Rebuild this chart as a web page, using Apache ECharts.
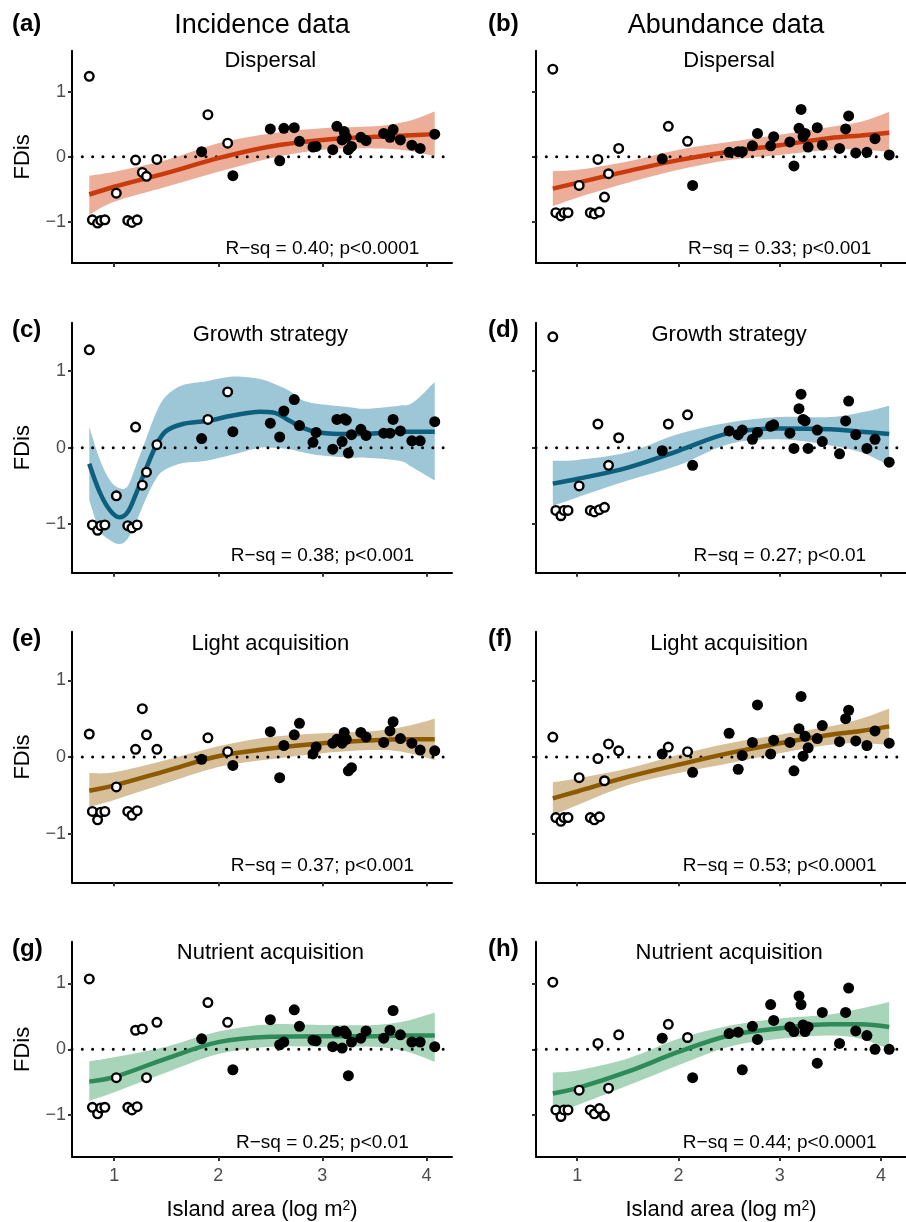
<!DOCTYPE html>
<html>
<head>
<meta charset="utf-8">
<script src="https://cdn.jsdelivr.net/npm/echarts@6/dist/echarts.min.js"></script>
<style>
html, body { margin: 0; padding: 0; background: #fff; }
#fdChart { width: 906px; height: 1222px; }
</style>
</head>
<body>
<div id="fdChart"></div>
<script>
// island area (log m2), same islands in every panel
var islandArea = [0.76, 0.79, 0.84, 0.87, 0.91, 1.02, 1.13, 1.17, 1.205, 1.22, 1.27, 1.31, 1.41,
    1.84, 1.90, 2.09, 2.14, 2.50, 2.59, 2.63, 2.73, 2.78, 2.91, 2.94, 3.10, 3.14, 3.19, 3.21,
    3.23, 3.25, 3.28, 3.37, 3.42, 3.59, 3.65, 3.68, 3.75, 3.86, 3.94, 4.08];
// 1 = open circle, 0 = filled
var openIsland = [1, 1, 1, 1, 1, 1, 1, 1, 1, 1, 1, 1, 1, 0, 1, 1, 0, 0, 0, 0, 0, 0, 0, 0, 0, 0,
    0, 0, 0, 0, 0, 0, 0, 0, 0, 0, 0, 0, 0, 0];

// FDis per panel
var fdisA = [1.24, -0.97, -1.02, -0.98, -0.97, -0.56, -0.98, -1.01, -0.05, -0.97, -0.24, -0.30, -0.04,
    0.08, 0.65, 0.21, -0.29, 0.43, -0.06, 0.44, 0.45, 0.24, 0.15, 0.16, 0.11, 0.47, 0.26, 0.39,
    0.30, 0.11, 0.16, 0.30, 0.25, 0.36, 0.30, 0.42, 0.26, 0.18, 0.13, 0.35];
var fdisB = [1.35, -0.86, -0.91, -0.86, -0.86, -0.44, -0.86, -0.88, -0.04, -0.85, -0.62, -0.26, 0.13,
    -0.03, 0.47, 0.24, -0.44, 0.07, 0.08, 0.08, 0.17, 0.36, 0.17, 0.31, 0.23, -0.14, 0.44, 0.73,
    0.31, 0.36, 0.15, 0.45, 0.18, 0.13, 0.43, 0.63, 0.06, 0.07, 0.28, 0.03];
var fdisC = [1.28, -1.01, -1.08, -1.02, -1.01, -0.63, -1.02, -1.05, 0.27, -1.01, -0.49, -0.32, 0.04,
    0.12, 0.37, 0.73, 0.21, 0.32, 0.14, 0.48, 0.63, 0.29, 0.07, 0.20, -0.02, 0.37, 0.08, 0.38,
    0.36, -0.07, 0.17, 0.24, 0.16, 0.19, 0.19, 0.37, 0.22, 0.09, 0.09, 0.34];
var fdisD = [1.45, -0.82, -0.89, -0.82, -0.82, -0.50, -0.82, -0.84, 0.31, -0.81, -0.78, -0.23, 0.13,
    -0.04, 0.31, 0.43, -0.23, 0.22, 0.17, 0.23, 0.11, 0.20, 0.28, 0.30, 0.19, -0.01, 0.51, 0.70,
    0.37, 0.35, -0.01, 0.23, 0.08, -0.08, 0.35, 0.61, 0.17, -0.01, 0.11, -0.19];
var fdisE = [0.30, -0.71, -0.82, -0.72, -0.71, -0.39, -0.71, -0.76, 0.10, -0.70, 0.63, 0.29, 0.10,
    -0.03, 0.25, 0.07, -0.11, 0.33, -0.27, 0.15, 0.29, 0.44, 0.04, 0.13, 0.18, 0.23, 0.18, 0.32,
    0.23, -0.18, -0.14, 0.32, 0.26, 0.19, 0.34, 0.46, 0.24, 0.18, 0.09, 0.08];
var fdisF = [0.26, -0.79, -0.84, -0.79, -0.79, -0.27, -0.79, -0.82, -0.02, -0.78, -0.31, 0.17, 0.08,
    0.04, 0.13, 0.07, -0.20, 0.31, -0.16, 0.02, 0.19, 0.68, 0.04, 0.22, 0.19, -0.18, 0.37, 0.79,
    0.01, 0.27, 0.12, 0.24, 0.41, 0.20, 0.50, 0.61, 0.21, 0.15, 0.34, 0.18];
var fdisG = [1.07, -0.88, -0.98, -0.89, -0.88, -0.43, -0.88, -0.92, 0.29, -0.87, 0.31, -0.43, 0.41,
    0.16, 0.71, 0.41, -0.31, 0.45, 0.07, 0.11, 0.60, 0.35, 0.14, 0.13, 0.04, 0.27, 0.02, 0.28,
    0.24, -0.40, 0.11, 0.17, 0.28, 0.17, 0.29, 0.59, 0.22, 0.11, 0.11, 0.04];
var fdisH = [1.02, -0.92, -1.02, -0.92, -0.92, -0.62, -0.92, -0.98, 0.09, -0.90, -1.01, -0.59, 0.22,
    0.17, 0.38, 0.18, -0.43, 0.24, 0.26, -0.31, 0.35, 0.15, 0.68, 0.44, 0.34, 0.27, 0.81, 0.68,
    0.37, 0.27, 0.34, -0.21, 0.56, 0.09, 0.56, 0.93, 0.28, 0.21, 0.00, 0.00];

// fitted curves and confidence bands
var curveX = [0.76, 1, 1.5, 2, 2.5, 3, 3.5, 3.8, 4.08];
var fitA = [-0.58, -0.46, -0.25, -0.02, 0.16, 0.26, 0.31, 0.33, 0.35];
var loA = [-0.89, -0.69, -0.46, -0.23, -0.02, 0.11, 0.13, 0.10, 0.01];
var hiA = [-0.29, -0.23, -0.05, 0.21, 0.36, 0.44, 0.47, 0.54, 0.70];
var fitB = [-0.49, -0.40, -0.22, -0.05, 0.08, 0.18, 0.29, 0.33, 0.37];
var loB = [-0.76, -0.63, -0.40, -0.20, -0.05, 0.03, 0.11, 0.11, 0.08];
var hiB = [-0.22, -0.20, -0.07, 0.11, 0.23, 0.34, 0.46, 0.54, 0.69];
var curveXc = [0.76, 0.86, 0.96, 1.05, 1.13, 1.21, 1.31, 1.41, 1.5, 1.66, 1.89, 2.14, 2.4, 2.53,
    2.69, 2.81, 2.97, 3.26, 3.42, 3.74, 3.87, 4.08];
var fitC = [-0.21, -0.58, -0.82, -0.91, -0.84, -0.60, -0.26, 0.05, 0.22, 0.31, 0.35, 0.42, 0.47,
    0.46, 0.35, 0.26, 0.20, 0.18, 0.18, 0.21, 0.21, 0.21];
var loC = [-0.69, -1.08, -1.21, -1.26, -1.19, -0.97, -0.65, -0.39, -0.28, -0.20, -0.17, -0.09, 0.00,
    0.00, -0.02, -0.06, -0.10, -0.13, -0.13, -0.17, -0.26, -0.43];
var hiC = [0.27, -0.15, -0.43, -0.53, -0.50, -0.23, 0.13, 0.48, 0.68, 0.82, 0.87, 0.93, 0.90,
    0.84, 0.74, 0.62, 0.57, 0.53, 0.51, 0.55, 0.59, 0.86];
var fitD = [-0.47, -0.41, -0.26, -0.04, 0.19, 0.25, 0.24, 0.21, 0.18];
var loD = [-0.76, -0.65, -0.43, -0.23, 0.05, 0.11, 0.03, -0.06, -0.23];
var hiD = [-0.17, -0.16, -0.06, 0.18, 0.33, 0.40, 0.40, 0.46, 0.55];
var fitE = [-0.44, -0.37, -0.18, 0.01, 0.11, 0.18, 0.22, 0.23, 0.23];
var loE = [-0.65, -0.56, -0.34, -0.13, -0.03, 0.05, 0.09, 0.06, -0.04];
var hiE = [-0.21, -0.20, -0.04, 0.14, 0.26, 0.31, 0.34, 0.40, 0.50];
var fitF = [-0.54, -0.45, -0.26, -0.10, 0.05, 0.18, 0.29, 0.34, 0.40];
var loF = [-0.76, -0.63, -0.37, -0.21, -0.08, 0.05, 0.16, 0.18, 0.16];
var hiF = [-0.33, -0.28, -0.15, 0.03, 0.18, 0.29, 0.40, 0.50, 0.63];
var fitG = [-0.49, -0.42, -0.14, 0.11, 0.19, 0.20, 0.20, 0.21, 0.21];
var loG = [-0.78, -0.65, -0.35, -0.07, 0.04, 0.04, 0.04, -0.03, -0.19];
var hiG = [-0.18, -0.12, 0.04, 0.27, 0.38, 0.37, 0.37, 0.43, 0.56];
var fitH = [-0.67, -0.59, -0.34, -0.04, 0.21, 0.32, 0.38, 0.38, 0.34];
var loH = [-0.98, -0.85, -0.55, -0.24, 0.04, 0.16, 0.21, 0.16, 0.00];
var hiH = [-0.35, -0.32, -0.14, 0.16, 0.36, 0.47, 0.53, 0.62, 0.72];

var xTicks = [1, 2, 3, 4];
var yTicks = [-1, 0, 1];
var xRange = [0.594, 4.246];
var yRange = [-1.635, 1.635];

var panels = [
    {tag: '(a)', col: 0, row: 0, title: 'Dispersal', stat: 'R\u2212sq = 0.40; p<0.0001', fdis: fdisA, cx: curveX, fit: fitA, lo: loA, hi: hiA, line: '#C93A0C', band: '#ECAE99'},
    {tag: '(b)', col: 1, row: 0, title: 'Dispersal', stat: 'R\u2212sq = 0.33; p<0.001', fdis: fdisB, cx: curveX, fit: fitB, lo: loB, hi: hiB, line: '#C93A0C', band: '#ECAE99'},
    {tag: '(c)', col: 0, row: 1, title: 'Growth strategy', stat: 'R\u2212sq = 0.38; p<0.001', fdis: fdisC, cx: curveXc, fit: fitC, lo: loC, hi: hiC, line: '#0E5E7D', band: '#9DC7D6'},
    {tag: '(d)', col: 1, row: 1, title: 'Growth strategy', stat: 'R\u2212sq = 0.27; p<0.01', fdis: fdisD, cx: curveX, fit: fitD, lo: loD, hi: hiD, line: '#0E5E7D', band: '#9DC7D6'},
    {tag: '(e)', col: 0, row: 2, title: 'Light acquisition', stat: 'R\u2212sq = 0.37; p<0.001', fdis: fdisE, cx: curveX, fit: fitE, lo: loE, hi: hiE, line: '#8C5A00', band: '#D6BF99'},
    {tag: '(f)', col: 1, row: 2, title: 'Light acquisition', stat: 'R\u2212sq = 0.53; p<0.0001', fdis: fdisF, cx: curveX, fit: fitF, lo: loF, hi: hiF, line: '#8C5A00', band: '#D6BF99'},
    {tag: '(g)', col: 0, row: 3, title: 'Nutrient acquisition', stat: 'R\u2212sq = 0.25; p<0.01', fdis: fdisG, cx: curveX, fit: fitG, lo: loG, hi: hiG, line: '#2E8B57', band: '#A8D4BA'},
    {tag: '(h)', col: 1, row: 3, title: 'Nutrient acquisition', stat: 'R\u2212sq = 0.44; p<0.0001', fdis: fdisH, cx: curveX, fit: fitH, lo: loH, hi: hiH, line: '#2E8B57', band: '#A8D4BA'}
];

var colLeft = [72, 536];
var rowTop = [50.7, 322.7, 631.7, 941.7];
var rowHeight = [212.3, 250, 250.6, 215.6];
var tagX = [12, 488];
var tagY = [24, 330.2, 639.2, 949.2];
var FONT = '"Liberation Sans", Arial, Helvetica, sans-serif';

var myChart = echarts.init(document.getElementById('fdChart'));

var grids = [], xAxes = [], yAxes = [], series = [], graphics = [];

function minusFmt(v) {
    return v < 0 ? '\u2212' + (-v) : '' + v;
}

function pairs(xs, ys) {
    return xs.map(function (x, k) { return [x, ys[k]]; });
}

// cubic pieces through pixel points (catmull-rom)
function splinePath(pts) {
    var s = '';
    for (var k = 0; k < pts.length - 1; k++) {
        var p0 = pts[k - 1] || pts[k], p1 = pts[k], p2 = pts[k + 1], p3 = pts[k + 2] || p2;
        s += 'C' + (p1[0] + (p2[0] - p0[0]) / 6) + ',' + (p1[1] + (p2[1] - p0[1]) / 6) + ' ' +
            (p2[0] - (p3[0] - p1[0]) / 6) + ',' + (p2[1] - (p3[1] - p1[1]) / 6) + ' ' +
            p2[0] + ',' + p2[1];
    }
    return s;
}

function bandItem(color) {
    return function (params, api) {
        if (params.dataIndex !== 0) return null;
        var n = params.dataInsideLength;
        var up = [], dn = [];
        for (var k = 0; k < n; k++) {
            up.push(api.coord([api.value(0, k), api.value(2, k)]));
            dn.push(api.coord([api.value(0, k), api.value(1, k)]));
        }
        dn.reverse();
        var d = 'M' + up[0][0] + ',' + up[0][1] + splinePath(up) +
            'L' + dn[0][0] + ',' + dn[0][1] + splinePath(dn) + 'Z';
        return {type: 'path', shape: {pathData: d}, style: {fill: color}};
    };
}

panels.forEach(function (p, i) {
    grids.push({left: colLeft[p.col], top: rowTop[p.row], width: 380, height: rowHeight[p.row]});

    var bottomRow = p.row === 3;
    xAxes.push({
        gridIndex: i, type: 'value', min: xRange[0], max: xRange[1],
        axisLine: {onZero: false, lineStyle: {color: '#000', width: 2}},
        axisTick: {customValues: xTicks, length: 4, lineStyle: {color: '#333', width: 2}},
        axisLabel: {show: bottomRow, customValues: xTicks, color: '#4d4d4d', fontSize: 18, fontFamily: FONT, margin: 10},
        splitLine: {show: false},
        name: bottomRow ? 'Island area (log m{sup|2})' : '',
        nameLocation: 'middle', nameGap: 42,
        nameTextStyle: {color: '#000', fontSize: 22, fontFamily: FONT,
            rich: {sup: {fontSize: 14, verticalAlign: 'top', fontFamily: FONT, color: '#000', padding: [0, 0, 7, 0]}}}
    });
    yAxes.push({
        gridIndex: i, type: 'value', min: yRange[0], max: yRange[1],
        axisLine: {onZero: false, lineStyle: {color: '#000', width: 2}},
        axisTick: {customValues: yTicks, length: 4, lineStyle: {color: '#333', width: 2}},
        axisLabel: {show: p.col === 0, customValues: yTicks, color: '#4d4d4d', fontSize: 18, fontFamily: FONT, margin: 6, formatter: minusFmt},
        splitLine: {show: false},
        name: p.col === 0 ? 'FDis' : '',
        nameLocation: 'middle', nameGap: 38,
        nameTextStyle: {color: '#000', fontSize: 22, fontFamily: FONT}
    });

    // confidence band
    series.push({
        type: 'custom', xAxisIndex: i, yAxisIndex: i, silent: true, z: 1,
        renderItem: bandItem(p.band),
        encode: {x: 0, y: [1, 2]},
        data: p.cx.map(function (x, k) { return [x, p.lo[k], p.hi[k]]; })
    });
    // dotted zero line
    series.push({
        type: 'line', xAxisIndex: i, yAxisIndex: i, silent: true, symbol: 'none', z: 2,
        lineStyle: {color: '#000', width: 3, type: [0.01, 10.3], cap: 'round'},
        data: [[xRange[0], 0], [xRange[1], 0]]
    });
    // fitted line
    series.push({
        type: 'line', xAxisIndex: i, yAxisIndex: i, silent: true, symbol: 'none', smooth: 0.35, z: 3,
        lineStyle: {color: p.line, width: 4.5},
        data: pairs(p.cx, p.fit)
    });
    // open and filled points
    var openPts = [], filledPts = [];
    islandArea.forEach(function (x, k) {
        (openIsland[k] ? openPts : filledPts).push([x, p.fdis[k]]);
    });
    series.push({
        type: 'scatter', xAxisIndex: i, yAxisIndex: i, silent: true, symbolSize: 11, z: 4,
        itemStyle: {color: '#000', opacity: 1}, data: filledPts
    });
    series.push({
        type: 'scatter', xAxisIndex: i, yAxisIndex: i, silent: true, symbolSize: 8.6, z: 5,
        itemStyle: {color: '#fff', borderColor: '#000', borderWidth: 2.4, opacity: 1}, data: openPts
    });
    // panel subtitle and statistic text
    series.push({
        type: 'scatter', xAxisIndex: i, yAxisIndex: i, silent: true, symbolSize: 1, z: 6,
        itemStyle: {color: 'rgba(0,0,0,0)'},
        label: {show: true, position: 'inside', color: '#000', fontFamily: FONT,
            textBorderWidth: 0, textBorderColor: 'transparent', opacity: 1},
        labelLayout: {hideOverlap: false},
        data: [
            {value: [2.5, 1.47], label: {formatter: p.title, fontSize: 22}},
            {value: [3.0, -1.415], label: {formatter: p.stat, fontSize: 19}}
        ]
    });

    graphics.push({
        type: 'text', x: tagX[p.col], y: tagY[p.row],
        style: {text: p.tag, fill: '#000', font: 'bold 24px ' + FONT, textAlign: 'left', textVerticalAlign: 'middle'}
    });
});

graphics.push({
    type: 'text', x: 262, y: 25.6,
    style: {text: 'Incidence data', fill: '#000', font: '27px ' + FONT, textAlign: 'center', textVerticalAlign: 'middle'}
});
graphics.push({
    type: 'text', x: 726, y: 25.6,
    style: {text: 'Abundance data', fill: '#000', font: '27px ' + FONT, textAlign: 'center', textVerticalAlign: 'middle'}
});

var option = {
    animation: false,
    backgroundColor: '#fff',
    grid: grids,
    xAxis: xAxes,
    yAxis: yAxes,
    series: series,
    graphic: graphics
};

myChart.setOption(option);
</script>
</body>
</html>
